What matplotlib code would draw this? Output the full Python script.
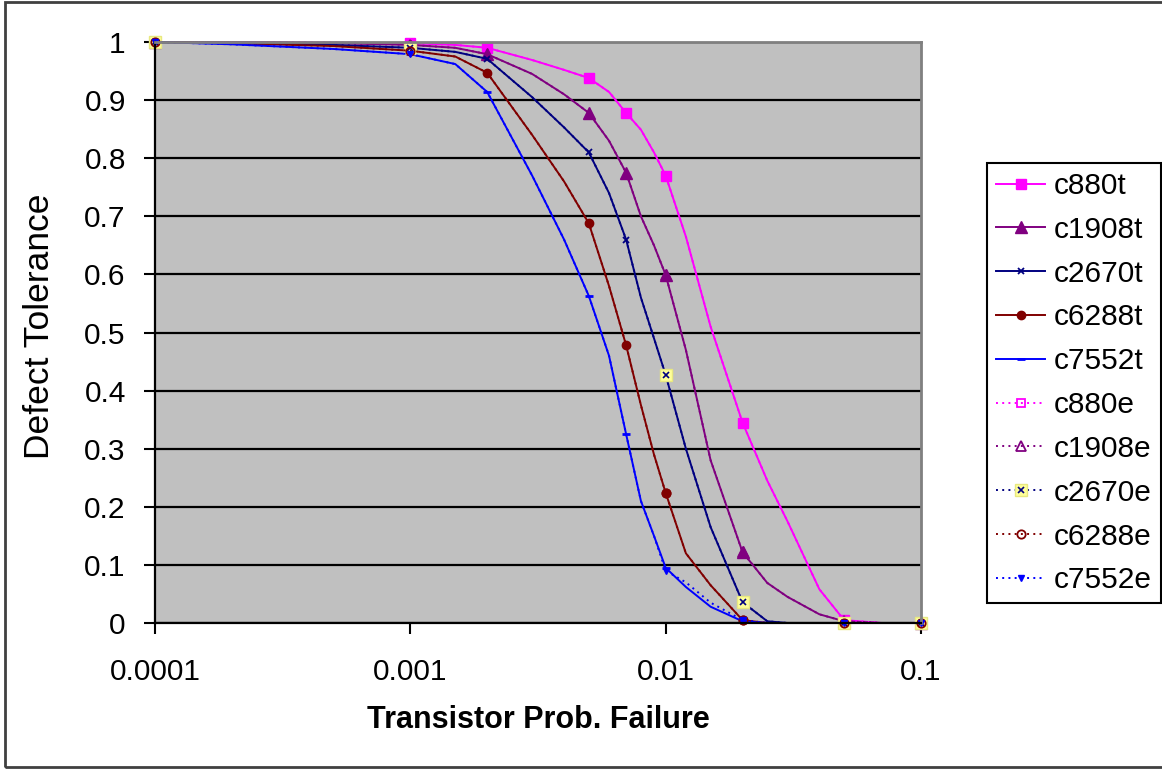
"""
Defect tolerance vs. transistor failure probability, Excel-style line chart.
"""

import matplotlib
matplotlib.use('Agg')
import matplotlib.pyplot as plt
from matplotlib.patches import Rectangle
from matplotlib.legend_handler import HandlerTuple

plt.rcParams['font.family'] = ['Liberation Sans', 'DejaVu Sans']

# Transistor probability of failure (x axis, log scale)
p_fail = [0.0001, 0.0002, 0.0005, 0.001, 0.0015, 0.002, 0.003, 0.004, 0.005,
          0.006, 0.007, 0.008, 0.009, 0.01, 0.012, 0.015, 0.02, 0.025, 0.03,
          0.04, 0.05, 0.07, 0.1]

# theory curves
c880t = [1.0, 1.0, 0.999, 0.998, 0.995, 0.990, 0.969, 0.952, 0.938, 0.914,
         0.878, 0.849, 0.810, 0.770, 0.665, 0.510, 0.345, 0.245, 0.175,
         0.058, 0.005, 0.0, 0.0]
c1908t = [1.0, 1.0, 0.998, 0.995, 0.990, 0.979, 0.945, 0.910, 0.878, 0.830,
          0.775, 0.700, 0.650, 0.599, 0.470, 0.280, 0.122, 0.069, 0.045,
          0.015, 0.003, 0.0, 0.0]
c2670t = [1.0, 0.998, 0.995, 0.990, 0.983, 0.971, 0.905, 0.853, 0.810, 0.740,
          0.660, 0.560, 0.490, 0.427, 0.300, 0.165, 0.036, 0.003, 0.0,
          0.0, 0.0, 0.0, 0.0]
c6288t = [1.0, 0.998, 0.993, 0.985, 0.975, 0.947, 0.840, 0.760, 0.688, 0.580,
          0.478, 0.375, 0.290, 0.224, 0.120, 0.065, 0.005, 0.0, 0.0,
          0.0, 0.0, 0.0, 0.0]
c7552t = [1.0, 0.996, 0.988, 0.979, 0.962, 0.914, 0.770, 0.660, 0.563, 0.460,
          0.325, 0.210, 0.150, 0.095, 0.062, 0.028, 0.003, 0.0, 0.0,
          0.0, 0.0, 0.0, 0.0]

# experimental curves
c880e = [1.0, 1.0, 0.999, 0.998, 0.995, 0.990, 0.969, 0.952, 0.938, 0.914,
         0.878, 0.849, 0.810, 0.770, 0.665, 0.510, 0.345, 0.245, 0.175,
         0.058, 0.005, 0.0, 0.0]
c1908e = [1.0, 1.0, 0.998, 0.995, 0.990, 0.979, 0.945, 0.910, 0.878, 0.830,
          0.775, 0.700, 0.650, 0.599, 0.470, 0.280, 0.122, 0.069, 0.045,
          0.015, 0.003, 0.0, 0.0]
c2670e = [1.0, 0.998, 0.995, 0.990, 0.983, 0.971, 0.905, 0.853, 0.810, 0.740,
          0.660, 0.560, 0.490, 0.427, 0.300, 0.165, 0.036, 0.003, 0.0,
          0.0, 0.0, 0.0, 0.0]
c6288e = [1.0, 0.998, 0.993, 0.985, 0.975, 0.947, 0.840, 0.760, 0.688, 0.580,
          0.478, 0.375, 0.290, 0.224, 0.120, 0.065, 0.005, 0.0, 0.0,
          0.0, 0.0, 0.0, 0.0]
c7552e = [1.0, 0.996, 0.988, 0.979, 0.962, 0.914, 0.770, 0.660, 0.563, 0.460,
          0.325, 0.210, 0.150, 0.090, 0.070, 0.035, 0.005, 0.0, 0.0,
          0.0, 0.0, 0.0, 0.0]

x_ticks = [0.0001, 0.001, 0.01, 0.1]
x_tick_labels = ['0.0001', '0.001', '0.01', '0.1']
y_ticks = [0, 0.1, 0.2, 0.3, 0.4, 0.5, 0.6, 0.7, 0.8, 0.9, 1]
y_tick_labels = ['0', '0.1', '0.2', '0.3', '0.4', '0.5', '0.6', '0.7', '0.8', '0.9', '1']

MAGENTA = '#FF00FF'
PURPLE = '#800080'
NAVY = '#000080'
DARKRED = '#800000'
BLUE = '#0000FF'

t_marks = [0, 3, 5, 8, 10, 13, 16, 20, 22]   # indices carrying markers
e_marks = [0, 3, 13, 16, 20, 22]

fig = plt.figure(figsize=(11.62, 7.69), dpi=100)
ax = fig.add_axes([155 / 1162, 1 - 623 / 769, 766 / 1162, 581 / 769])
ax.set_facecolor('#C0C0C0')

lw = 1.4
dot = (0, (1, 2.2))

h = []
h.append(ax.plot(p_fail, c880t, '-', color=MAGENTA, lw=lw, marker='s', ms=7,
                 markevery=t_marks, clip_on=False)[0])
h.append(ax.plot(p_fail, c1908t, '-', color=PURPLE, lw=lw, marker='^', ms=8,
                 markevery=t_marks, clip_on=False)[0])
h.append(ax.plot(p_fail, c2670t, '-', color=NAVY, lw=lw, marker='x', ms=5, mew=1.3,
                 markevery=t_marks, clip_on=False)[0])
h.append(ax.plot(p_fail, c6288t, '-', color=DARKRED, lw=lw, marker='o', ms=6,
                 markevery=t_marks, clip_on=False)[0])
h.append(ax.plot(p_fail, c7552t, '-', color=BLUE, lw=lw, marker='_', ms=6, mew=2,
                 markevery=t_marks, clip_on=False)[0])

h.append(ax.plot(p_fail, c880e, linestyle=dot, color=MAGENTA, lw=lw, marker='s', ms=6,
                 mfc='none', mew=1.3, markevery=e_marks, clip_on=False)[0])
h.append(ax.plot(p_fail, c1908e, linestyle=dot, color=PURPLE, lw=lw, marker='^', ms=7,
                 mfc='none', mew=1.3, markevery=e_marks, clip_on=False)[0])
l_a = ax.plot(p_fail, c2670e, linestyle=dot, color=NAVY, lw=lw, marker='s', ms=9,
              mfc='#FFFF99', mec='#E8E880', markevery=e_marks, clip_on=False)[0]
l_b = ax.plot(p_fail, c2670e, linestyle='none', color=NAVY, marker='x', ms=4, mew=1.2,
              markevery=e_marks, clip_on=False)[0]
h.append((l_a, l_b))
h.append(ax.plot(p_fail, c6288e, linestyle=dot, color=DARKRED, lw=lw, marker='o', ms=6,
                 mfc='none', mew=1.3, markevery=e_marks, clip_on=False)[0])
h.append(ax.plot(p_fail, c7552e, linestyle=dot, color=BLUE, lw=lw, marker='v', ms=5,
                 markevery=e_marks, clip_on=False)[0])

labels = ['c880t', 'c1908t', 'c2670t', 'c6288t', 'c7552t',
          'c880e', 'c1908e', 'c2670e', 'c6288e', 'c7552e']

ax.set_xscale('log')
ax.set_xlim(0.0001, 0.1)
ax.set_ylim(0, 1)
ax.set_xticks(x_ticks)
ax.set_xticklabels(x_tick_labels)
ax.xaxis.set_minor_locator(matplotlib.ticker.NullLocator())
ax.set_yticks(y_ticks)
ax.set_yticklabels(y_tick_labels)

ax.yaxis.grid(True, color='black', lw=1.6)
ax.set_axisbelow(True)
ax.tick_params(axis='both', direction='out', length=8, width=1.5, color='black',
               labelsize=21.5)
ax.tick_params(axis='y', pad=13)
ax.tick_params(axis='x', pad=17)

for side in ('left', 'bottom'):
    ax.spines[side].set_color('black')
    ax.spines[side].set_linewidth(1.6)
for side in ('top', 'right'):
    ax.spines[side].set_color('#808080')
    ax.spines[side].set_linewidth(2)

ax.set_xlabel('Transistor Prob. Failure', fontsize=22, fontweight='bold')
ax.set_ylabel('Defect Tolerance', fontsize=25.5)
ax.xaxis.set_label_coords(0.5007, (623 - 705) / 581)
ax.yaxis.set_label_coords((56 - 155) / 766, 0.51)

leg = fig.legend(h, labels, loc='upper left',
                 bbox_to_anchor=(987 / 1162, 1 - 163 / 769),
                 bbox_transform=fig.transFigure, borderaxespad=0,
                 fontsize=21.5, frameon=True, fancybox=False, framealpha=1,
                 edgecolor='black', handlelength=1.65, handletextpad=0.3,
                 borderpad=0.3, labelspacing=0.53,
                 handler_map={tuple: HandlerTuple(ndivide=1)})
leg.get_frame().set_linewidth(1.5)

# outer chart border
fig.patches.append(Rectangle((5 / 1162, 2 / 769), 1.2, 765 / 769,
                             transform=fig.transFigure, fill=False,
                             edgecolor='#404040', lw=2))

fig.savefig('out.png', dpi=100)
